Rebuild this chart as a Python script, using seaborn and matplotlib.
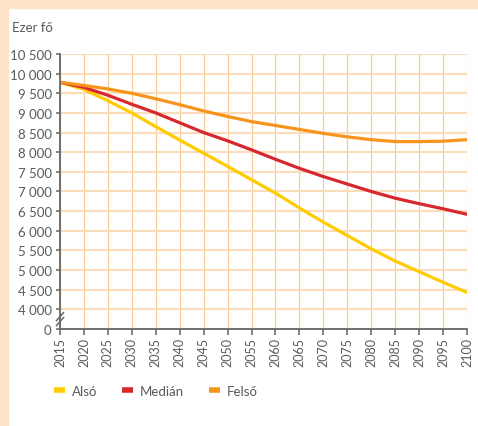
import matplotlib
matplotlib.use("Agg")
import matplotlib.pyplot as plt
from matplotlib.patches import Rectangle
from matplotlib.lines import Line2D
import seaborn as sns
import pandas as pd

years = list(range(2015, 2101, 5))
also = [9780, 9600, 9310, 9000, 8650, 8310, 7975, 7640, 7300, 6960, 6580, 6220, 5880, 5540, 5230, 4960, 4690, 4430]
median = [9780, 9650, 9450, 9220, 9000, 8750, 8500, 8290, 8060, 7820, 7590, 7380, 7190, 7000, 6830, 6690, 6560, 6420]
felso = [9780, 9700, 9610, 9500, 9360, 9210, 9050, 8910, 8780, 8680, 8580, 8480, 8390, 8320, 8270, 8270, 8280, 8320]
series_names = ["Alsó", "Medián", "Felső"]
series_colors = ["#FFCC00", "#D7282F", "#F7941D"]
y_ticks = list(range(3500, 10501, 500))
y_tick_labels = ["0", "4 000", "4 500", "5 000", "5 500", "6 000", "6 500", "7 000",
                 "7 500", "8 000", "8 500", "9 000", "9 500", "10 000", "10 500"]
y_unit = "Ezer fő"

sns.set_theme(style="white")
plt.rcParams['font.family'] = ['Lato', 'DejaVu Sans']
plt.rcParams['font.weight'] = 'normal'

df = pd.DataFrame({
    "year": years * 3,
    "value": also + median + felso,
    "scenario": [series_names[0]] * len(years) + [series_names[1]] * len(years) + [series_names[2]] * len(years),
})

W, H = 478, 427
fig = plt.figure(figsize=(W / 100, H / 100), dpi=100, facecolor="white")
peach = "#FDE3C8"
fig.patches.append(Rectangle((0, 0), 8 / W, 1, transform=fig.transFigure, color=peach, zorder=-10))
fig.patches.append(Rectangle((0, 1 - 9 / H), 1, 9 / H, transform=fig.transFigure, color=peach, zorder=-10))

ax = fig.add_axes([60 / W, 97 / H, 407 / W, 275 / H])
ax.set_facecolor("none")
sns.lineplot(data=df, x="year", y="value", hue="scenario", hue_order=series_names,
             palette=series_colors, linewidth=2.3, ax=ax, legend=False, zorder=5)

ax.set_xlim(2015, 2100)
ax.set_ylim(3500, 10500)
ax.set_xticks(years)
ax.set_xticklabels([str(y) for y in years], rotation=90, fontsize=9, color="#5a5a5a")
ax.set_yticks(y_ticks)
ax.set_yticklabels(y_tick_labels, fontsize=9.5, color="#5a5a5a")
ax.set_xlabel("")
ax.set_ylabel("")

for s in ["top", "right"]:
    ax.spines[s].set_visible(False)
for s in ["left", "bottom"]:
    ax.spines[s].set_color("#666666")
    ax.spines[s].set_linewidth(1.3)
    ax.spines[s].set_zorder(6)

ax.tick_params(axis="y", which="major", length=3, width=1.1, color="#666666", pad=3, left=True)
ax.tick_params(axis="x", which="major", length=4, width=1.1, color="#666666", pad=2, bottom=True)

ax.yaxis.grid(True, color="#FCDCB8", linewidth=1.5, zorder=0)
ax.xaxis.grid(True, color="#F9CB94", linewidth=0.9, zorder=0)
ax.set_axisbelow(True)

# axis break marks
for dy in (0.0, 0.018):
    ax.plot([-0.009, 0.009], [0.012 + dy, 0.042 + dy], transform=ax.transAxes,
            color="#666666", linewidth=1.1, clip_on=False, zorder=7)

fig.text(12 / W, 1 - 28 / H, y_unit, fontsize=9.5, color="#5a5a5a", va="center", ha="left")

handles = [Line2D([0], [0], color=c, linewidth=4, solid_capstyle="butt") for c in series_colors]
ax.legend(handles, series_names, loc="center left", bbox_to_anchor=(54 / W, 35 / H),
          bbox_transform=fig.transFigure, ncol=3, frameon=False, fontsize=9.5,
          handlelength=0.85, handletextpad=0.5, columnspacing=1.9,
          borderpad=0, borderaxespad=0, labelcolor="#5a5a5a")

fig.savefig("out.png", dpi=100, facecolor="white")
